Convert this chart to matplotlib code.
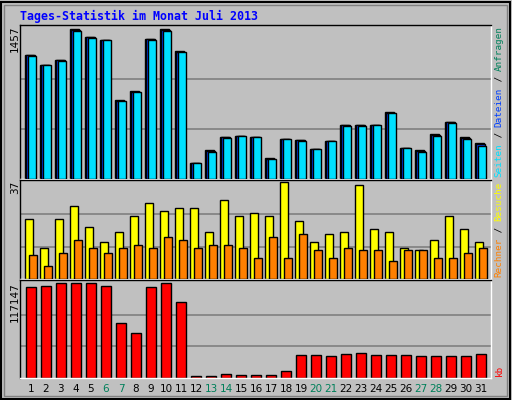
import matplotlib
matplotlib.use("Agg")
import matplotlib.pyplot as plt
from matplotlib.patches import Rectangle
import numpy as np

days = list(range(1, 32))
weekend = [6, 7, 13, 14, 20, 21, 27, 28]
hits = [1213,1114,1164,1457,1388,1352,768,857,1368,1457,1243,155,283,412,422,412,204,392,382,293,372,531,531,531,649,303,283,442,560,412,353]
files = [1208,1114,1159,1452,1383,1352,763,852,1363,1452,1238,155,274,407,422,412,199,392,377,293,372,526,526,531,644,303,274,432,555,402,338]
pages = [1203,1114,1154,1447,1378,1352,758,847,1358,1447,1233,155,264,402,422,412,194,392,372,293,372,521,521,531,639,303,264,422,550,392,323]
visits = [23,12,23,28,20,14,18,24,29,26,27,27,18,30,24,25,24,37,22,14,17,18,36,19,18,12,11,15,24,19,14]
hosts = [9,5,10,15,12,10,12,13,12,16,15,12,13,13,12,8,16,8,17,11,8,12,11,11,7,11,11,8,8,10,12]
kb = [112870,114153,117147,117147,117147,114153,68407,55581,112870,117147,93632,2565,2565,5130,3848,3848,3848,8978,28218,28218,26935,29500,30783,28218,28218,28218,26935,26935,26935,26935,29500]

W, H = 512, 400
fig = plt.figure(figsize=(W/100, H/100), dpi=100)
fig.patch.set_facecolor('#C0C0C0')
fig.add_artist(Rectangle((1/W, 1/H), 1-3/W, 1-3/H, transform=fig.transFigure,
                         fill=False, edgecolor='black', lw=1.5))
fig.add_artist(Rectangle((4/W, 4/H), 1-9/W, 1-9/H, transform=fig.transFigure,
                         fill=False, edgecolor='#808080', lw=1))

def ax_at(x0, y0, x1, y1):
    a = fig.add_axes([x0/W, 1-y1/H, (x1-x0)/W, (y1-y0)/H])
    a.set_facecolor('#C0C0C0')
    for s in a.spines.values():
        s.set_color('black'); s.set_linewidth(1)
    a.spines['right'].set_color('white'); a.spines['bottom'].set_color('white')
    a.set_xticks([]); a.set_yticks([])
    a.set_xlim(0.27, 31.67)
    return a

x = np.array(days, dtype=float)
kw = dict(edgecolor='black', linewidth=1)

a1 = ax_at(20, 25, 491, 179)
m1 = 1457
a1.set_ylim(0, m1*1.03)
for g in (m1/3, 2*m1/3):
    a1.axhline(g, color='#808080', lw=1.2, zorder=0)
a1.bar(x-0.08, hits, 0.62, color='#00805A', **kw, zorder=2)
a1.bar(x-0.04, files, 0.62, color='#0040FF', **kw, zorder=3)
a1.bar(x+0.05, pages, 0.55, color='#00E0FF', **kw, zorder=4)

a2 = ax_at(20, 180, 491, 279)
m2 = 37
a2.set_ylim(0, m2*1.02)
for g in (m2/3, 2*m2/3):
    a2.axhline(g, color='#808080', lw=1.2, zorder=0)
a2.bar(x-0.12, visits, 0.55, color='#FFFF00', **kw, zorder=2)
a2.bar(x+0.15, hosts, 0.5, color='#FF8000', **kw, zorder=3)

a3 = ax_at(20, 280, 491, 378)
m3 = 117147
a3.set_ylim(0, m3*1.035)
for g in (m3/3, 2*m3/3):
    a3.axhline(g, color='#808080', lw=1.2, zorder=0)
a3.bar(x, kb, 0.68, color='#FF0000', **kw, zorder=2)
for d in days:
    a3.text(d, -0.06, str(d), transform=a3.get_xaxis_transform(), ha='center', va='top',
            fontsize=7.5, family='DejaVu Sans',
            color='#00805A' if d in weekend else 'black')

def ft(px, py, s, **k):
    fig.text(px/W, 1-py/H, s, **k)

mono = dict(family='DejaVu Sans Mono')
ft(20, 16, 'Tages-Statistik im Monat Juli 2013', color='#0000FF', fontsize=8.4,
   weight='bold', va='center', ha='left', **mono)
for py, s in ((26, '1457'), (181, '37'), (282, '117147')):
    ft(15, py, s, rotation=90, ha='center', va='top', fontsize=7.5, family='DejaVu Sans')

cw = 5.6
def vseg(px, py_bottom, parts):
    y = py_bottom
    for s, c in parts:
        ft(px, y, s, rotation=90, ha='center', va='bottom', color=c, fontsize=6.7, **mono)
        y -= len(s)*cw

vseg(499, 177, [('Seiten', '#00E0FF'), (' / ', '#000000'), ('Dateien', '#0040FF'),
                (' / ', '#000000'), ('Anfragen', '#00805A')])
vseg(499, 277, [('Rechner', '#FF8000'), (' / ', '#000000'), ('Besuche', '#FFFF00')])
vseg(499, 376, [('kb', '#FF0000')])

fig.savefig('out.png', dpi=100, facecolor=fig.get_facecolor())
